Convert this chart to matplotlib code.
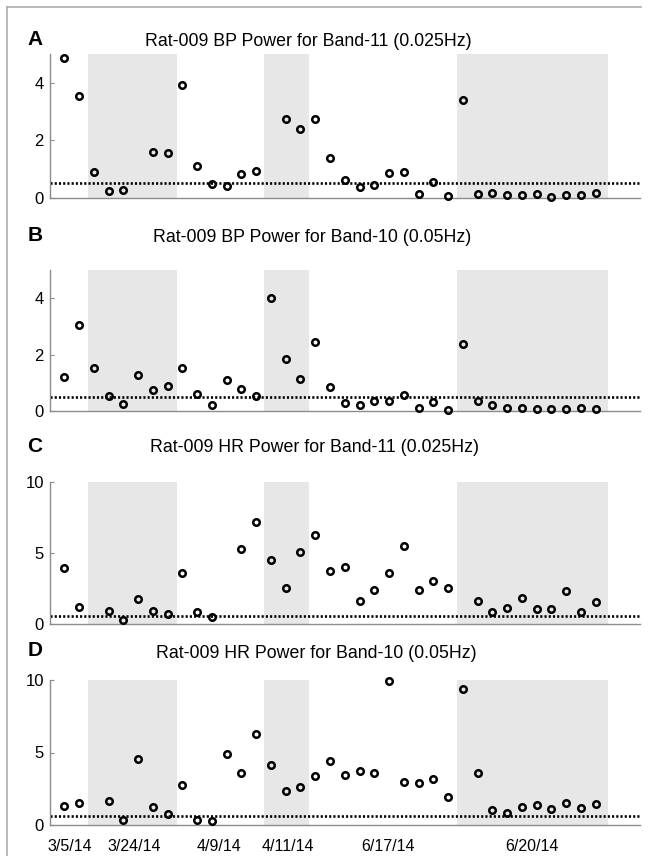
import numpy as np
import matplotlib
matplotlib.use('Agg')
import matplotlib.pyplot as plt
from matplotlib.lines import Line2D

plt.rcParams['font.family'] = ['Liberation Sans', 'DejaVu Sans']

nan = np.nan

# recording index (one per measurement)
sample_idx = np.arange(37)

# shaded (dark) periods, in sample-index units
dark_periods = [(1.6, 7.67), (13.55, 16.6), (26.6, 36.85)]

# date labels and where they sit along the sample axis
date_labels = ['3/5/14', '3/24/14', '4/9/14', '4/11/14', '6/17/14', '6/20/14']
date_label_pos = [0.35, 4.75, 10.5, 15.15, 21.9, 31.65]

titles = ['Rat-009 BP Power for Band-11 (0.025Hz)',
          'Rat-009 BP Power for Band-10 (0.05Hz)',
          'Rat-009 HR Power for Band-11 (0.025Hz)',
          'Rat-009 HR Power for Band-10 (0.05Hz)']
panel_letters = ['A', 'B', 'C', 'D']

bp_band11 = [4.86, 3.55, 0.90, 0.25, 0.27, nan, 1.58, 1.55, 3.92, 1.11,
             0.47, 0.42, 0.82, 0.94, nan, 2.75, 2.39, 2.75, 1.39, 0.62,
             0.36, 0.43, 0.86, 0.89, 0.12, 0.53, 0.06, 3.39, 0.13, 0.15,
             0.08, 0.09, 0.14, 0.03, 0.10, 0.10, 0.16]
bp_band10 = [1.19, 3.06, 1.52, 0.52, 0.25, 1.28, 0.73, 0.88, 1.54, 0.61,
             0.22, 1.11, 0.79, 0.54, 3.99, 1.85, 1.14, 2.45, 0.85, 0.29,
             0.20, 0.35, 0.34, 0.56, 0.09, 0.32, 0.05, 2.38, 0.36, 0.20,
             0.12, 0.09, 0.07, 0.06, 0.07, 0.09, 0.07]
hr_band11 = [3.93, 1.22, nan, 0.94, 0.28, 1.80, 0.94, 0.73, 3.58, 0.87,
             0.49, nan, 5.27, 7.19, 4.54, 2.58, 5.08, 6.25, 3.75, 4.03,
             1.62, 2.44, 3.58, 5.50, 2.39, 3.02, 2.55, nan, 1.62, 0.87,
             1.15, 1.87, 1.05, 1.08, 2.34, 0.89, 1.57]
hr_band10 = [1.33, 1.49, nan, 1.63, 0.34, 4.53, 1.24, 0.74, 2.76, 0.34,
             0.30, 4.90, 3.56, 6.30, 4.14, 2.34, 2.60, 3.40, 4.43, 3.47,
             3.72, 3.56, 9.93, 2.99, 2.92, 3.17, 1.90, 9.36, 3.60, 1.03,
             0.84, 1.26, 1.37, 1.07, 1.55, 1.19, 1.48]

thresholds = [0.52, 0.51, 0.61, 0.62]
y_max = [5, 5, 10, 10]
y_ticks = [[0, 2, 4], [0, 2, 4], [0, 5, 10], [0, 5, 10]]
series = [bp_band11, bp_band10, hr_band11, hr_band10]

W, H = 650, 856
fig = plt.figure(figsize=(W / 100, H / 100), dpi=100)

# figure border (left and top visible)
fig.add_artist(Line2D([7.3 / W, 7.3 / W], [0, 1 - 6.7 / H], transform=fig.transFigure,
                      color='#a6a6a6', lw=1.1))
fig.add_artist(Line2D([7.3 / W, 641 / W], [1 - 6.7 / H, 1 - 6.7 / H], transform=fig.transFigure,
                      color='#a6a6a6', lw=1.1))

# axes rectangles in pixel terms: (zero line y, top y)
ax_rows = [(197.7, 54.3), (411.0, 270.0), (624.3, 482.0), (825.0, 680.0)]
title_y = [41.5, 237.5, 448.0, 653.0]
title_x = [308, 312, 315, 316]
left_px, right_px = 49.5, 640.0

for i in range(4):
    y0, y1 = ax_rows[i]
    ax = fig.add_axes([left_px / W, 1 - y0 / H, (right_px - left_px) / W, (y0 - y1) / H])
    for a, b in dark_periods:
        ax.axvspan(a, b, color='#e7e7e7', lw=0, zorder=0)
    ax.axhline(thresholds[i], color='black', lw=1.9, ls=(0, (0.8, 0.8)), zorder=2)
    ax.plot(sample_idx, series[i], ls='none', marker='o', ms=4.7, mew=1.8,
            mfc='none', mec='black', zorder=3, clip_on=False)
    ax.set_xlim(-1, 39)
    ax.set_ylim(0, y_max[i])
    ax.set_yticks(y_ticks[i])
    ax.set_yticklabels([str(t) for t in y_ticks[i]])
    for s in ['top', 'right']:
        ax.spines[s].set_visible(False)
    for s in ['left', 'bottom']:
        ax.spines[s].set_color('#8c8c8c')
        ax.spines[s].set_linewidth(1.0)
    ax.tick_params(axis='y', direction='in', length=3, width=0.8, color='#8c8c8c',
                   labelsize=12, pad=4)
    if i == 3:
        ax.set_xticks(date_label_pos)
        ax.set_xticklabels(date_labels)
        ax.tick_params(axis='x', length=0, labelsize=11.5, pad=10)
    else:
        ax.set_xticks([])
    ax.set_facecolor('none')
    fig.text(title_x[i] / W, 1 - title_y[i] / H, titles[i], ha='center', va='center',
             fontsize=12.8)
    fig.text(35 / W, 1 - (title_y[i] - 2) / H, panel_letters[i], ha='center', va='center',
             fontsize=15, fontweight='bold')

fig.savefig('out.png', dpi=100)
